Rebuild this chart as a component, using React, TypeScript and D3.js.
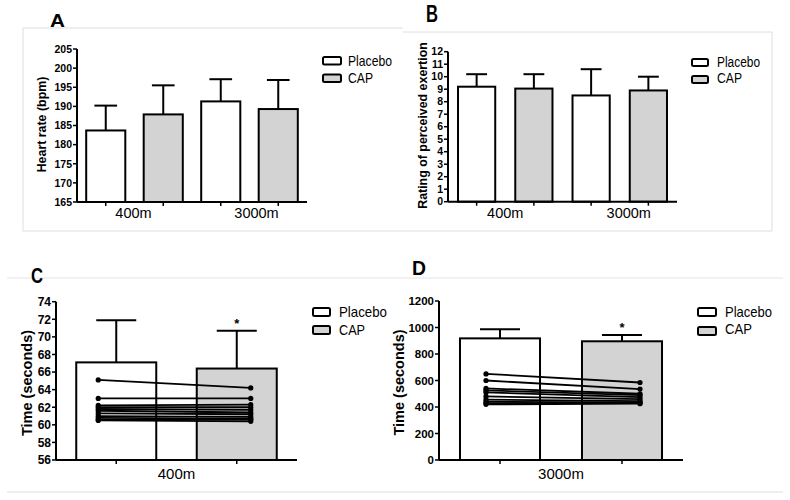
import React from "react";
import * as d3 from "d3";

// ---------- data ----------
const groupsAB = ["400m", "3000m"];
const seriesNames = ["Placebo", "CAP"];

const hrPlacebo = [183.7, 191.3];
const hrPlaceboSD = [6.5, 5.8];
const hrCap = [187.9, 189.3];
const hrCapSD = [7.6, 7.6];
const hrTicks = [165, 170, 175, 180, 185, 190, 195, 200, 205];

const rpePlacebo = [9.2, 8.5];
const rpePlaceboSD = [1.0, 2.1];
const rpeCap = [9.05, 8.9];
const rpeCapSD = [1.15, 1.1];
const rpeTicks = [0, 1, 2, 3, 4, 5, 6, 7, 8, 9, 10, 11, 12];

const groupC = ["400m"];
const t400Placebo = [67.1];
const t400PlaceboSD = [4.8];
const t400Cap = [66.4];
const t400CapSD = [4.3];
const t400Ticks = [56, 58, 60, 62, 64, 66, 68, 70, 72, 74];
const t400Before = [65.1, 63.0, 62.2, 62.0, 61.8, 61.6, 61.3, 61.0, 60.8, 60.6, 60.5];
const t400After = [64.2, 63.0, 62.3, 62.0, 61.7, 61.4, 61.2, 60.9, 60.7, 60.6, 60.4];

const groupD = ["3000m"];
const t3000Placebo = [918];
const t3000PlaceboSD = [68];
const t3000Cap = [896];
const t3000CapSD = [47];
const t3000Ticks = [0, 200, 400, 600, 800, 1000, 1200];
const t3000Before = [650, 600, 540, 525, 510, 480, 455, 440, 430, 420];
const t3000After = [585, 535, 500, 490, 475, 460, 445, 435, 430, 425];

// ---------- styles ----------
const FILLS = ["#ffffff", "#d3d3d3"];
const FONT = "'Liberation Sans', Arial, sans-serif";

type Cfg = {
  x0: number; x1: number; yTop: number; yBottom: number;
  domain: [number, number]; ticks: number[]; tickFont: number;
  placebo: number[]; placeboSD: number[]; cap: number[]; capSD: number[];
  groups: string[]; groupDx: number[]; labelY: number; labelFont: number;
  pad: number; capFrac: number;
  ylabel: string; ylabelX: number; ylabelY: number; ylabelFont: number;
  pairs?: { before: number[]; after: number[]; fb: number; fa: number };
  star?: boolean;
  legend: { boxX: number; boxW: number; boxH: number; tops: number[]; textX: number; bases: number[]; font: number; lens: number[] };
};

function Panel({ c }: { c: Cfg }) {
  const y = d3.scaleLinear().domain(c.domain).range([c.yBottom, c.yTop]);
  const vals: { v: number; sd: number; s: number; g: number }[] = [];
  c.groups.forEach((_, g) => {
    vals.push({ v: c.placebo[g], sd: c.placeboSD[g], s: 0, g });
    vals.push({ v: c.cap[g], sd: c.capSD[g], s: 1, g });
  });
  const x = d3
    .scaleBand<number>()
    .domain(d3.range(vals.length))
    .range([c.x0, c.x1])
    .paddingInner(c.pad)
    .paddingOuter(c.pad / 2);
  const bw = x.bandwidth();
  return (
    <g>
      {vals.map((b, i) => {
        const cx = (x(i) as number) + bw / 2;
        const top = y(b.v);
        const et = y(b.v + b.sd);
        return (
          <g key={i}>
            <line x1={cx} x2={cx} y1={top} y2={et} stroke="#000" strokeWidth={2} />
            <line x1={cx - (bw * c.capFrac) / 2} x2={cx + (bw * c.capFrac) / 2} y1={et} y2={et} stroke="#000" strokeWidth={2} />
            <rect x={x(i)} y={top} width={bw} height={c.yBottom - top} fill={FILLS[b.s]} stroke="#000" strokeWidth={2} />
          </g>
        );
      })}
      {c.star &&
        vals
          .filter((b) => b.s === 1)
          .map((b, k) => {
            const i = vals.indexOf(b);
            const cx = (x(i) as number) + bw / 2;
            return (
              <text key={k} x={cx} y={y(b.v + b.sd) - 3} textAnchor="middle" fontFamily={FONT} fontWeight="bold" fontSize={13}>
                *
              </text>
            );
          })}
      {c.pairs &&
        c.pairs.before.map((bv, k) => {
          const xb = (x(0) as number) + bw * c.pairs!.fb;
          const xa = (x(1) as number) + bw * c.pairs!.fa;
          const av = c.pairs!.after[k];
          return (
            <g key={k}>
              <line x1={xb} x2={xa} y1={y(bv)} y2={y(av)} stroke="#000" strokeWidth={1.8} />
              <circle cx={xb} cy={y(bv)} r={2.6} fill="#000" />
              <circle cx={xa} cy={y(av)} r={2.6} fill="#000" />
            </g>
          );
        })}
      {/* y axis */}
      <line x1={c.x0} x2={c.x0} y1={c.yTop} y2={c.yBottom} stroke="#000" strokeWidth={2} />
      {c.ticks.map((t) => (
        <g key={t}>
          <line x1={c.x0 - 4} x2={c.x0} y1={y(t)} y2={y(t)} stroke="#000" strokeWidth={1.5} />
          <text x={c.x0 - 5} y={y(t)} dy="0.36em" textAnchor="end" fontFamily={FONT} fontWeight="bold" fontSize={c.tickFont}>
            {t}
          </text>
        </g>
      ))}
      {/* x axis */}
      <line x1={c.x0} x2={c.x1} y1={c.yBottom} y2={c.yBottom} stroke="#000" strokeWidth={2} />
      {vals.map((_, i) => (
        <line key={i} x1={(x(i) as number) + bw / 2} x2={(x(i) as number) + bw / 2} y1={c.yBottom} y2={c.yBottom + 4} stroke="#000" strokeWidth={1.5} />
      ))}
      {c.groups.map((g, gi) => {
        const cx = ((x(gi * 2) as number) + (x(gi * 2 + 1) as number) + bw) / 2;
        return (
          <text key={g} x={cx + c.groupDx[gi]} y={c.labelY} textAnchor="middle" fontFamily={FONT} fontSize={c.labelFont}>
            {g}
          </text>
        );
      })}
      <text
        transform={`translate(${c.ylabelX},${c.ylabelY}) rotate(-90)`}
        textAnchor="middle"
        fontFamily={FONT}
        fontWeight="bold"
        fontSize={c.ylabelFont}
      >
        {c.ylabel}
      </text>
      {/* legend */}
      {seriesNames.map((s, i) => (
        <g key={s}>
          <rect x={c.legend.boxX} y={c.legend.tops[i]} width={c.legend.boxW} height={c.legend.boxH} rx={1.5} fill={FILLS[i]} stroke="#000" strokeWidth={2} />
          <text x={c.legend.textX} y={c.legend.bases[i]} fontFamily={FONT} fontSize={c.legend.font} textLength={c.legend.lens[i]} lengthAdjust="spacingAndGlyphs">
            {s}
          </text>
        </g>
      ))}
    </g>
  );
}

const cfgA: Cfg = {
  x0: 77, x1: 307, yTop: 49, yBottom: 202, domain: [165, 205], ticks: hrTicks, tickFont: 10.5,
  placebo: hrPlacebo, placeboSD: hrPlaceboSD, cap: hrCap, capSD: hrCapSD,
  groups: groupsAB, groupDx: [-1, 7], labelY: 218, labelFont: 14.5, pad: 0.32, capFrac: 0.58,
  ylabel: "Heart rate (bpm)", ylabelX: 46, ylabelY: 124.5, ylabelFont: 12.4,
  legend: { boxX: 323, boxW: 18, boxH: 7.5, tops: [57, 74.5], textX: 348, bases: [65.5, 82.5], font: 14.5, lens: [44, 25] },
};
const cfgB: Cfg = {
  x0: 448, x1: 677, yTop: 51.7, yBottom: 201.7, domain: [0, 12], ticks: rpeTicks, tickFont: 10.5,
  placebo: rpePlacebo, placeboSD: rpePlaceboSD, cap: rpeCap, capSD: rpeCapSD,
  groups: groupsAB, groupDx: [0, 9], labelY: 218, labelFont: 14.5, pad: 0.35, capFrac: 0.56,
  ylabel: "Rating of perceived exertion", ylabelX: 427, ylabelY: 125.5, ylabelFont: 12.4,
  legend: { boxX: 692, boxW: 16, boxH: 7, tops: [59, 76], textX: 717, bases: [66.5, 83.3], font: 14, lens: [43, 25] },
};
const cfgC: Cfg = {
  x0: 56, x1: 297, yTop: 301.7, yBottom: 460, domain: [56, 74], ticks: t400Ticks, tickFont: 12,
  placebo: t400Placebo, placeboSD: t400PlaceboSD, cap: t400Cap, capSD: t400CapSD,
  groups: groupC, groupDx: [0], labelY: 479, labelFont: 15, pad: 0.336, capFrac: 0.5,
  ylabel: "Time (seconds)", ylabelX: 32, ylabelY: 383, ylabelFont: 14.5,
  pairs: { before: t400Before, after: t400After, fb: 0.275, fa: 0.675 }, star: true,
  legend: { boxX: 313, boxW: 17, boxH: 8, tops: [308, 326], textX: 339, bases: [317, 335], font: 14.8, lens: [48, 26] },
};
const cfgD: Cfg = {
  x0: 439, x1: 683, yTop: 301, yBottom: 460, domain: [0, 1200], ticks: t3000Ticks, tickFont: 11.5,
  placebo: t3000Placebo, placeboSD: t3000PlaceboSD, cap: t3000Cap, capSD: t3000CapSD,
  groups: groupD, groupDx: [0], labelY: 479, labelFont: 15, pad: 0.344, capFrac: 0.5,
  ylabel: "Time (seconds)", ylabelX: 404, ylabelY: 382.5, ylabelFont: 14.5,
  pairs: { before: t3000Before, after: t3000After, fb: 0.325, fa: 0.725 }, star: true,
  legend: { boxX: 698, boxW: 18, boxH: 8, tops: [308, 327], textX: 725, bases: [316.7, 334.3], font: 14.8, lens: [47, 27] },
};

export default function App() {
  return (
    <svg width={790} height={500} style={{ position: "absolute", left: 0, top: 0, background: "#fff" }}>
      {/* frames */}
      <path d="M23,28 H403 M403,32 H772 V231 H23 V28" fill="none" stroke="#dedede" strokeWidth={1} />
      <line x1={7} x2={783} y1={278} y2={278} stroke="#e4e4e4" strokeWidth={1} />
      <line x1={7} x2={783} y1={492} y2={492} stroke="#e8e8e8" strokeWidth={1.5} />
      {/* panel letters */}
      <text x={50} y={27} fontFamily={FONT} fontWeight="bold" fontSize={18.5} textLength={15} lengthAdjust="spacingAndGlyphs">A</text>
      <text x={426} y={22} fontFamily={FONT} fontWeight="bold" fontSize={23} textLength={12} lengthAdjust="spacingAndGlyphs">B</text>
      <text x={31} y={283} fontFamily={FONT} fontWeight="bold" fontSize={22} textLength={12} lengthAdjust="spacingAndGlyphs">C</text>
      <text x={412} y={275} fontFamily={FONT} fontWeight="bold" fontSize={20.5} textLength={14} lengthAdjust="spacingAndGlyphs">D</text>
      <Panel c={cfgA} />
      <Panel c={cfgB} />
      <Panel c={cfgC} />
      <Panel c={cfgD} />
    </svg>
  );
}
